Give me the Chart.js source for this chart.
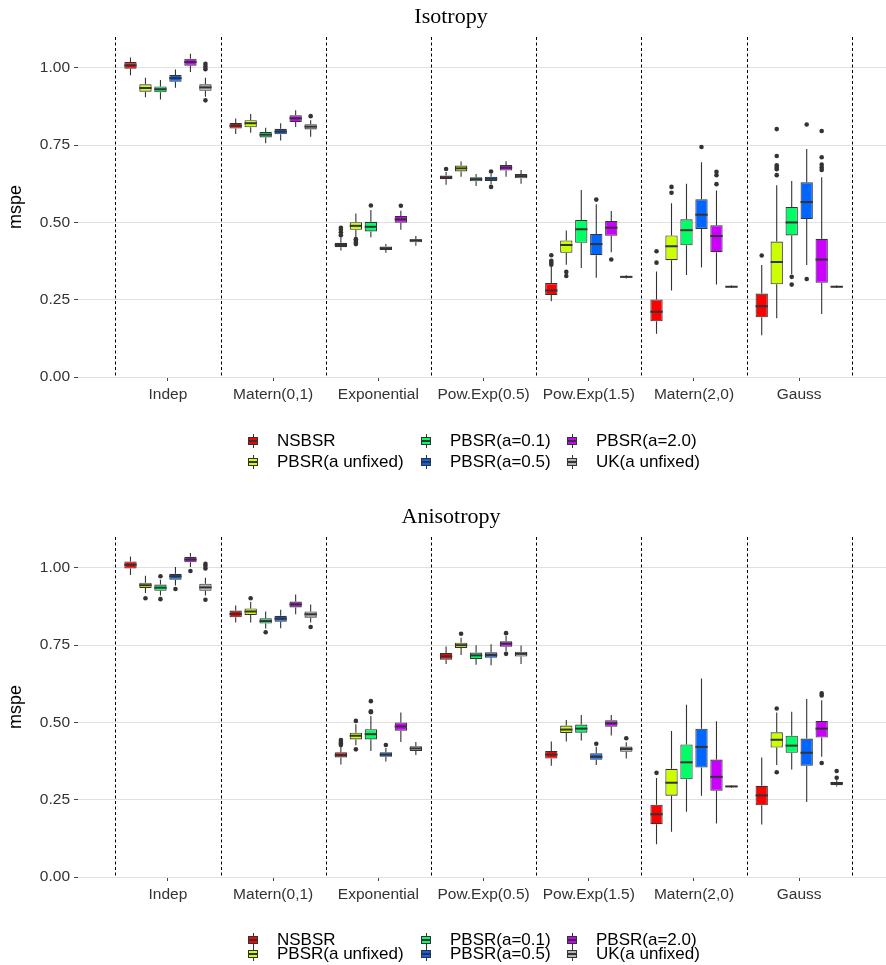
<!DOCTYPE html>
<html>
<head>
<meta charset="utf-8">
<script src="https://cdn.jsdelivr.net/npm/chart.js@4.4.1/dist/chart.umd.min.js"></script>
<style>
    html, body { margin: 0; padding: 0; background: #fff; }
    body { width: 886px; height: 965px; overflow: hidden; position: relative; font-family: 'Liberation Sans', Arial, sans-serif; }
    .panel { position: absolute; left: 0; width: 886px; height: 500px; }
    .panel canvas { position: absolute; left: 0; top: 0; }
    .key { position: absolute; width: 10px; height: 14px; }
    .key .wh { position: absolute; left: 4.5px; top: 0; width: 1px; height: 14px; background: #333; }
    .key .bx { position: absolute; left: 0; top: 3px; width: 8px; height: 6px; border: 1px solid #333; }
    .key .md { position: absolute; left: 0; top: 6px; width: 10px; height: 2px; background: #333; }
    .lab { position: absolute; font-size: 17px; line-height: 20px; color: #000; white-space: nowrap; }
</style>
</head>
<body>
<div class="panel" id="p1" style="top:0"><canvas id="iso" width="886" height="500"></canvas></div>
<div class="panel" id="p2" style="top:500px"><canvas id="aniso" width="886" height="500"></canvas></div>
<script>
var categories = ['Indep', 'Matern(0,1)', 'Exponential', 'Pow.Exp(0.5)', 'Pow.Exp(1.5)', 'Matern(2,0)', 'Gauss'];
var yTicks = [0, 0.25, 0.5, 0.75, 1.0];
var methods = ['NSBSR', 'PBSR(a unfixed)', 'PBSR(a=0.1)', 'PBSR(a=0.5)', 'PBSR(a=2.0)', 'UK(a unfixed)'];
var fills = ['#FF0000', '#CCFF00', '#00FF66', '#0066FF', '#CC00FF', '#B3B3B3'];

// [lower whisker, q1, median, q3, upper whisker] per category
var isoNSBSR = [[0.976, 0.997, 1.008, 1.019, 1.034], [0.786, 0.804, 0.813, 0.822, 0.836], [0.409, 0.420, 0.427, 0.434, 0.452], [0.622, 0.640, 0.646, 0.652, 0.663], [0.245, 0.265, 0.280, 0.304, 0.357], [0.140, 0.180, 0.211, 0.251, 0.341], [0.135, 0.193, 0.229, 0.270, 0.362]];
var isoPBSRfree = [[0.905, 0.923, 0.935, 0.947, 0.968], [0.790, 0.808, 0.821, 0.831, 0.851], [0.452, 0.476, 0.489, 0.501, 0.529], [0.648, 0.665, 0.675, 0.684, 0.697], [0.363, 0.402, 0.427, 0.442, 0.474], [0.280, 0.378, 0.423, 0.458, 0.562], [0.190, 0.300, 0.372, 0.438, 0.620]];
var isoPBSR01 = [[0.898, 0.921, 0.931, 0.940, 0.961], [0.756, 0.775, 0.784, 0.793, 0.806], [0.452, 0.471, 0.486, 0.502, 0.540], [0.618, 0.633, 0.640, 0.646, 0.657], [0.353, 0.434, 0.478, 0.508, 0.605], [0.330, 0.426, 0.475, 0.510, 0.625], [0.333, 0.458, 0.500, 0.550, 0.634]];
var isoPBSR05 = [[0.936, 0.955, 0.967, 0.977, 0.995], [0.765, 0.785, 0.794, 0.803, 0.821], [0.402, 0.411, 0.416, 0.422, 0.430], [0.624, 0.634, 0.642, 0.648, 0.657], [0.321, 0.394, 0.430, 0.463, 0.559], [0.354, 0.479, 0.525, 0.575, 0.695], [0.362, 0.511, 0.566, 0.630, 0.738]];
var isoPBSR20 = [[0.987, 1.007, 1.019, 1.030, 1.046], [0.809, 0.825, 0.837, 0.847, 0.863], [0.476, 0.499, 0.510, 0.521, 0.538], [0.648, 0.668, 0.677, 0.686, 0.698], [0.404, 0.457, 0.483, 0.505, 0.537], [0.299, 0.404, 0.456, 0.491, 0.603], [0.204, 0.305, 0.380, 0.447, 0.646]];
var isoUK = [[0.907, 0.926, 0.937, 0.947, 0.968], [0.777, 0.801, 0.810, 0.818, 0.831], [0.425, 0.436, 0.442, 0.446, 0.456], [0.625, 0.643, 0.650, 0.657, 0.670], [0.319, 0.322, 0.324, 0.326, 0.329], [0.288, 0.290, 0.292, 0.294, 0.296], [0.288, 0.290, 0.292, 0.294, 0.296]];

var isoOutNSBSR = [[], [], [0.483, 0.476, 0.468, 0.459], [0.673], [0.394, 0.376, 0.370, 0.363], [0.407, 0.370], [0.393]];
var isoOutPBSRfree = [[], [], [0.446, 0.441, 0.435, 0.430], [], [0.340, 0.327], [0.615, 0.596], [0.802, 0.715, 0.685, 0.678, 0.672, 0.653]];
var isoOutPBSR01 = [[], [], [0.555], [], [], [], [0.324, 0.299]];
var isoOutPBSR05 = [[], [], [], [0.665, 0.615], [0.574], [0.744], [0.817, 0.317]];
var isoOutPBSR20 = [[], [], [0.554], [], [0.380], [0.664, 0.653, 0.624], [0.796, 0.711, 0.687, 0.678, 0.670]];
var isoOutUK = [[1.013, 1.004, 0.996, 0.895], [0.844], [], [], [], [], []];

var anisoNSBSR = [[0.977, 0.998, 1.010, 1.021, 1.037], [0.823, 0.840, 0.851, 0.862, 0.878], [0.364, 0.387, 0.395, 0.404, 0.421], [0.689, 0.703, 0.714, 0.725, 0.746], [0.360, 0.383, 0.396, 0.408, 0.438], [0.106, 0.171, 0.203, 0.234, 0.320], [0.170, 0.232, 0.264, 0.295, 0.387]];
var anisoPBSRfree = [[0.919, 0.935, 0.944, 0.952, 0.975], [0.823, 0.848, 0.859, 0.869, 0.890], [0.426, 0.445, 0.457, 0.467, 0.494], [0.718, 0.741, 0.750, 0.758, 0.774], [0.438, 0.466, 0.477, 0.490, 0.508], [0.146, 0.263, 0.305, 0.350, 0.472], [0.362, 0.419, 0.444, 0.468, 0.532]];
var anisoPBSR01 = [[0.911, 0.926, 0.936, 0.946, 0.962], [0.804, 0.820, 0.828, 0.837, 0.859], [0.408, 0.445, 0.462, 0.478, 0.521], [0.687, 0.705, 0.717, 0.726, 0.750], [0.442, 0.467, 0.480, 0.493, 0.524], [0.211, 0.316, 0.371, 0.429, 0.557], [0.348, 0.402, 0.425, 0.457, 0.535]];
var anisoPBSR05 = [[0.943, 0.962, 0.973, 0.981, 1.003], [0.805, 0.826, 0.836, 0.845, 0.865], [0.374, 0.389, 0.396, 0.404, 0.417], [0.685, 0.709, 0.718, 0.727, 0.753], [0.362, 0.379, 0.389, 0.400, 0.421], [0.263, 0.354, 0.421, 0.480, 0.642], [0.243, 0.360, 0.402, 0.448, 0.576]];
var anisoPBSR20 = [[1.003, 1.018, 1.027, 1.036, 1.048], [0.850, 0.872, 0.882, 0.891, 0.914], [0.437, 0.473, 0.487, 0.500, 0.532], [0.730, 0.745, 0.755, 0.763, 0.780], [0.458, 0.486, 0.497, 0.507, 0.524], [0.173, 0.279, 0.324, 0.380, 0.504], [0.389, 0.451, 0.480, 0.505, 0.572]];
var anisoUK = [[0.911, 0.926, 0.937, 0.949, 0.968], [0.823, 0.839, 0.850, 0.859, 0.882], [0.395, 0.408, 0.416, 0.423, 0.437], [0.689, 0.713, 0.722, 0.729, 0.749], [0.383, 0.405, 0.414, 0.422, 0.436], [0.289, 0.291, 0.293, 0.295, 0.297], [0.293, 0.297, 0.303, 0.307, 0.313]];

var anisoOutNSBSR = [[], [], [0.443, 0.437, 0.432, 0.427], [], [], [0.337], []];
var anisoOutPBSRfree = [[0.902], [0.902], [0.505, 0.413], [0.787], [], [], [0.545, 0.339]];
var anisoOutPBSR01 = [[0.973, 0.899], [0.792], [0.569, 0.536, 0.533], [], [], [], []];
var anisoOutPBSR05 = [[0.932], [], [0.427], [], [0.431], [], []];
var anisoOutPBSR20 = [[0.990], [], [], [0.789, 0.722], [], [], [0.594, 0.587, 0.369]];
var anisoOutUK = [[1.013, 1.006, 0.998, 0.897], [0.809], [], [], [0.449], [], [0.343, 0.321]];

var edge = '#333333';

var boxPlugin = {
    id: 'boxes',
    beforeDatasetsDraw: function (chart) {
        var ctx = chart.ctx, xs = chart.scales.x, ys = chart.scales.y, area = chart.chartArea;
        ctx.save();
        // dashed separators between the covariance models
        ctx.strokeStyle = '#000';
        ctx.lineWidth = 1;
        ctx.setLineDash([3, 2.5]);
        for (var i = 0; i <= categories.length; i++) {
            var px = Math.round(xs.getPixelForValue(i - 0.5)) + 0.5;
            ctx.beginPath();
            ctx.moveTo(px, area.top);
            ctx.lineTo(px, ys.getPixelForValue(0));
            ctx.stroke();
        }
        ctx.setLineDash([]);
        // whiskers
        ctx.strokeStyle = edge;
        ctx.lineWidth = 1.1;
        chart.data.datasets.forEach(function (ds, j) {
            chart.getDatasetMeta(j).data.forEach(function (bar, k) {
                var s = ds.stats[k];
                ctx.beginPath();
                ctx.moveTo(bar.x, ys.getPixelForValue(s[4]));
                ctx.lineTo(bar.x, ys.getPixelForValue(s[3]));
                ctx.moveTo(bar.x, ys.getPixelForValue(s[1]));
                ctx.lineTo(bar.x, ys.getPixelForValue(s[0]));
                ctx.stroke();
            });
        });
        ctx.restore();
    },
    afterDatasetsDraw: function (chart) {
        var ctx = chart.ctx, ys = chart.scales.y;
        ctx.save();
        chart.data.datasets.forEach(function (ds, j) {
            chart.getDatasetMeta(j).data.forEach(function (bar, k) {
                var s = ds.stats[k];
                var half = bar.width / 2;
                // median
                ctx.strokeStyle = edge;
                ctx.lineWidth = 2;
                ctx.beginPath();
                ctx.moveTo(bar.x - half, ys.getPixelForValue(s[2]));
                ctx.lineTo(bar.x + half, ys.getPixelForValue(s[2]));
                ctx.stroke();
                // outliers
                ctx.fillStyle = edge;
                ds.outliers[k].forEach(function (v) {
                    ctx.beginPath();
                    ctx.arc(bar.x, ys.getPixelForValue(v), 2.3, 0, Math.PI * 2);
                    ctx.fill();
                });
            });
        });
        ctx.restore();
    },
    afterDraw: function (chart) {
        var ctx = chart.ctx;
        ctx.save();
        ctx.fillStyle = '#000';
        ctx.font = '22px "Liberation Serif", "Times New Roman", serif';
        ctx.textAlign = 'center';
        ctx.textBaseline = 'middle';
        ctx.fillText(chart.options.plugins.panelTitle, 451, 17);
        ctx.restore();
    }
};

function makePanel(canvasId, title, stats, outs) {
    var datasets = methods.map(function (m, j) {
        return {
            label: m,
            data: categories.map(function (c, i) {
                return { x: i, y: [stats[j][i][1], stats[j][i][3]] };
            }),
            stats: stats[j],
            outliers: outs[j],
            backgroundColor: fills[j],
            borderColor: edge,
            borderWidth: 1.1,
            borderSkipped: false,
            categoryPercentage: 0.855,
            barPercentage: 0.82
        };
    });

    return new Chart(document.getElementById(canvasId), {
        type: 'bar',
        data: { datasets: datasets },
        options: {
            responsive: false,
            animation: false,
            devicePixelRatio: 1,
            layout: { padding: { top: 37, left: 0, right: 0, bottom: 0 } },
            plugins: {
                legend: { display: false },
                tooltip: { enabled: false },
                title: { display: false },
                panelTitle: title
            },
            scales: {
                x: {
                    type: 'linear',
                    offset: false,
                    min: -0.855,
                    max: 6.825,
                    afterBuildTicks: function (scale) {
                        scale.ticks = categories.map(function (c, i) { return { value: i }; });
                    },
                    afterFit: function (scale) { scale.height = 123; },
                    ticks: {
                        autoSkip: false,
                        maxRotation: 0,
                        padding: 4,
                        color: '#333',
                        font: { family: 'Liberation Sans', size: 15.5 },
                        callback: function (v) { return categories[v]; }
                    },
                    grid: { offset: false, drawOnChartArea: false, drawTicks: true, tickLength: 4, color: '#444' },
                    border: { display: false }
                },
                y: {
                    min: 0,
                    max: 1.1,
                    afterBuildTicks: function (scale) {
                        scale.ticks = yTicks.map(function (v) { return { value: v }; });
                    },
                    afterFit: function (scale) { scale.width = 78; },
                    ticks: {
                        padding: 4,
                        color: '#333',
                        font: { family: 'Liberation Sans', size: 15.5 },
                        callback: function (v) { return v.toFixed(2); }
                    },
                    grid: { color: '#e0e0e0', lineWidth: 1, tickColor: '#444', tickLength: 4 },
                    border: { display: false },
                    title: {
                        display: true,
                        text: 'mspe',
                        color: '#000',
                        padding: { top: 5, bottom: 0 },
                        font: { family: 'Liberation Sans', size: 18 }
                    }
                }
            }
        },
        plugins: [boxPlugin]
    });
}

function makeLegend(panelId, rowY) {
    var panel = document.getElementById(panelId);
    var keyX = [248, 421, 567], textX = [277, 450, 596];
    methods.forEach(function (m, j) {
        var col = Math.floor(j / 2), row = j % 2;
        var key = document.createElement('div');
        key.className = 'key';
        key.style.left = keyX[col] + 'px';
        key.style.top = (rowY[row] - 7) + 'px';
        key.innerHTML = '<div class="wh"></div><div class="bx" style="background:' + fills[j] + '"></div><div class="md"></div>';
        panel.appendChild(key);
        var lab = document.createElement('div');
        lab.className = 'lab';
        lab.style.left = textX[col] + 'px';
        lab.style.top = (rowY[row] - 10) + 'px';
        lab.textContent = m;
        panel.appendChild(lab);
    });
}

makePanel('iso', 'Isotropy',
    [isoNSBSR, isoPBSRfree, isoPBSR01, isoPBSR05, isoPBSR20, isoUK],
    [isoOutNSBSR, isoOutPBSRfree, isoOutPBSR01, isoOutPBSR05, isoOutPBSR20, isoOutUK]);
makePanel('aniso', 'Anisotropy',
    [anisoNSBSR, anisoPBSRfree, anisoPBSR01, anisoPBSR05, anisoPBSR20, anisoUK],
    [anisoOutNSBSR, anisoOutPBSRfree, anisoOutPBSR01, anisoOutPBSR05, anisoOutPBSR20, anisoOutUK]);
makeLegend('p1', [441, 462]);
makeLegend('p2', [440, 454]);
</script>
</body>
</html>
